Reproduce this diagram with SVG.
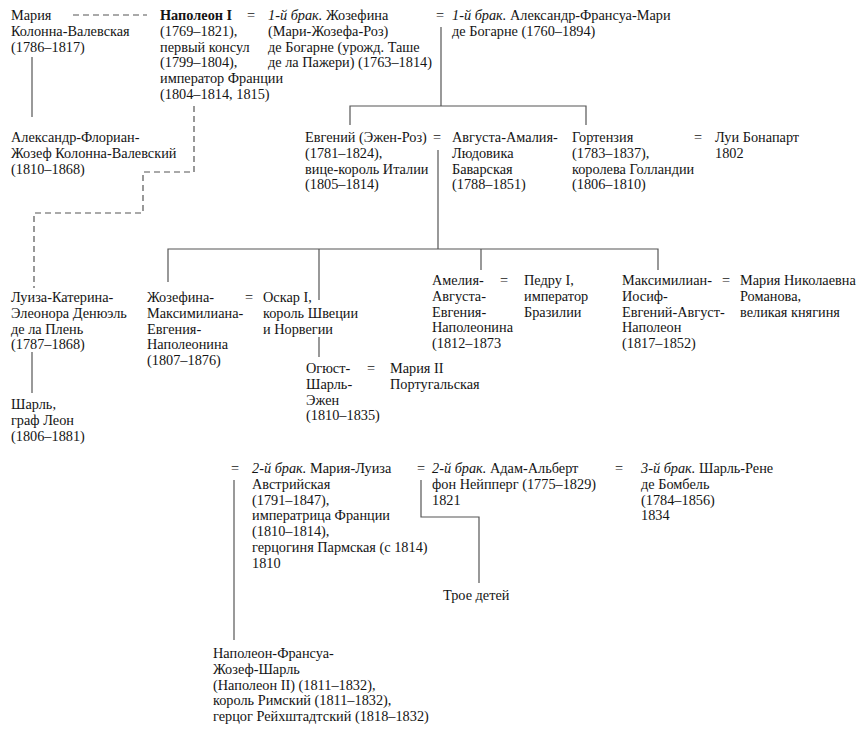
<svg xmlns="http://www.w3.org/2000/svg" width="867" height="733" viewBox="0 0 867 733">
<style>
text{font-family:"Liberation Serif","Times New Roman",serif;font-size:14.3px;fill:#141414}
.b{font-weight:bold}
.i{font-style:italic}
.eq{text-anchor:middle}
.ln{fill:none;stroke:#555;stroke-width:1.2}
.ds{fill:none;stroke:#555;stroke-width:1.2;stroke-dasharray:6 4}
</style>
<rect width="867" height="733" fill="#fff"/>
<g id="connectors">
<path class="ds" d="M73 15H147"/>
<path class="ds" d="M194 106V172H143V213H34V288"/>
<path class="ln" d="M32 57V117"/>
<path class="ln" d="M441 27V106M350 125V106H586V125"/>
<path class="ln" d="M438 150V249M168 282V249H658V270M319 249V300M319 337V357M481 249V270"/>
<path class="ln" d="M32 352V393"/>
<path class="ln" d="M234 480V640"/>
<path class="ln" d="M421 480V517H479V583"/>
</g>
<g id="maria-walewska"><text x="11" y="20">Мария<tspan x="11" dy="15.8">Колонна-Валевская</tspan><tspan x="11" dy="15.8">(1786–1817)</tspan></text></g>
<g id="napoleon"><text x="160" y="20"><tspan class="b">Наполеон I</tspan><tspan x="160" dy="15.8">(1769–1821),</tspan><tspan x="160" dy="15.8">первый консул</tspan><tspan x="160" dy="15.8">(1799–1804),</tspan><tspan x="160" dy="15.8">император Франции</tspan><tspan x="160" dy="15.8">(1804–1814, 1815)</tspan></text></g>
<g id="eq1"><text class="eq" x="251" y="20">=</text></g>
<g id="josephine"><text x="268" y="20"><tspan class="i">1-й брак.</tspan> Жозефина<tspan x="268" dy="15.8">(Мари-Жозефа-Роз)</tspan><tspan x="268" dy="15.8">де Богарне (урожд. Таше</tspan><tspan x="268" dy="15.8">де ла Пажери) (1763–1814)</tspan></text></g>
<g id="eq2"><text class="eq" x="440" y="20">=</text></g>
<g id="alexandre-beauharnais"><text x="452" y="20"><tspan class="i">1-й брак.</tspan> Александр-Франсуа-Мари<tspan x="452" dy="15.8">де Богарне (1760–1894)</tspan></text></g>
<g id="alexandre-walewski"><text x="11" y="142">Александр-Флориан-<tspan x="11" dy="15.8">Жозеф Колонна-Валевский</tspan><tspan x="11" dy="15.8">(1810–1868)</tspan></text></g>
<g id="eugene"><text x="305" y="142">Евгений (Эжен-Роз)<tspan x="305" dy="15.8">(1781–1824),</tspan><tspan x="305" dy="15.8">вице-король Италии</tspan><tspan x="305" dy="15.8">(1805–1814)</tspan></text></g>
<g id="eq3"><text class="eq" x="437" y="142">=</text></g>
<g id="augusta"><text x="452" y="142">Августа-Амалия-<tspan x="452" dy="15.8">Людовика</tspan><tspan x="452" dy="15.8">Баварская</tspan><tspan x="452" dy="15.8">(1788–1851)</tspan></text></g>
<g id="hortense"><text x="572" y="142">Гортензия<tspan x="572" dy="15.8">(1783–1837),</tspan><tspan x="572" dy="15.8">королева Голландии</tspan><tspan x="572" dy="15.8">(1806–1810)</tspan></text></g>
<g id="eq4"><text class="eq" x="698" y="142">=</text></g>
<g id="louis"><text x="715" y="142">Луи Бонапарт<tspan x="715" dy="15.8">1802</tspan></text></g>
<g id="louise"><text x="11" y="302">Луиза-Катерина-<tspan x="11" dy="15.8">Элеонора Денюэль</tspan><tspan x="11" dy="15.8">де ла Плень</tspan><tspan x="11" dy="15.8">(1787–1868)</tspan></text></g>
<g id="charles-leon"><text x="11" y="409">Шарль,<tspan x="11" dy="15.8">граф Леон</tspan><tspan x="11" dy="15.8">(1806–1881)</tspan></text></g>
<g id="josephine-max"><text x="147" y="302">Жозефина-<tspan x="147" dy="15.8">Максимилиана-</tspan><tspan x="147" dy="15.8">Евгения-</tspan><tspan x="147" dy="15.8">Наполеонина</tspan><tspan x="147" dy="15.8">(1807–1876)</tspan></text></g>
<g id="eq5"><text class="eq" x="249" y="302">=</text></g>
<g id="oscar"><text x="263" y="302">Оскар I,<tspan x="263" dy="15.8">король Швеции</tspan><tspan x="263" dy="15.8">и Норвегии</tspan></text></g>
<g id="auguste"><text x="306" y="373">Огюст-<tspan x="306" dy="15.8">Шарль-</tspan><tspan x="306" dy="15.8">Эжен</tspan><tspan x="306" dy="15.8">(1810–1835)</tspan></text></g>
<g id="eq6"><text class="eq" x="371" y="373">=</text></g>
<g id="maria2"><text x="390" y="373">Мария II<tspan x="390" dy="15.8">Португальская</tspan></text></g>
<g id="amelie"><text x="432" y="285">Амелия-<tspan x="432" dy="15.8">Августа-</tspan><tspan x="432" dy="15.8">Евгения-</tspan><tspan x="432" dy="15.8">Наполеонина</tspan><tspan x="432" dy="15.8">(1812–1873</tspan></text></g>
<g id="eq7"><text class="eq" x="504" y="285">=</text></g>
<g id="pedro"><text x="524" y="285">Педру I,<tspan x="524" dy="15.8">император</tspan><tspan x="524" dy="15.8">Бразилии</tspan></text></g>
<g id="maximilian"><text x="622" y="285">Максимилиан-<tspan x="622" dy="15.8">Иосиф-</tspan><tspan x="622" dy="15.8">Евгений-Август-</tspan><tspan x="622" dy="15.8">Наполеон</tspan><tspan x="622" dy="15.8">(1817–1852)</tspan></text></g>
<g id="eq8"><text class="eq" x="726" y="285">=</text></g>
<g id="maria-nik"><text x="740" y="285">Мария Николаевна<tspan x="740" dy="15.8">Романова,</tspan><tspan x="740" dy="15.8">великая княгиня</tspan></text></g>
<g id="eq9"><text class="eq" x="235" y="473">=</text></g>
<g id="marie-louise"><text x="252" y="473"><tspan class="i">2-й брак.</tspan> Мария-Луиза<tspan x="252" dy="15.8">Австрийская</tspan><tspan x="252" dy="15.8">(1791–1847),</tspan><tspan x="252" dy="15.8">императрица Франции</tspan><tspan x="252" dy="15.8">(1810–1814),</tspan><tspan x="252" dy="15.8">герцогиня Пармская (с 1814)</tspan><tspan x="252" dy="15.8">1810</tspan></text></g>
<g id="eq10"><text class="eq" x="421" y="473">=</text></g>
<g id="neipperg"><text x="432" y="473"><tspan class="i">2-й брак.</tspan> Адам-Альберт<tspan x="432" dy="15.8">фон Нейпперг (1775–1829)</tspan><tspan x="432" dy="15.8">1821</tspan></text></g>
<g id="eq11"><text class="eq" x="619" y="473">=</text></g>
<g id="bombelles"><text x="641" y="473"><tspan class="i">3-й брак.</tspan> Шарль-Рене<tspan x="641" dy="15.8">де Бомбель</tspan><tspan x="641" dy="15.8">(1784–1856)</tspan><tspan x="641" dy="15.8">1834</tspan></text></g>
<g id="three-children"><text x="443" y="600">Трое детей</text></g>
<g id="napoleon2"><text x="213" y="658">Наполеон-Франсуа-<tspan x="213" dy="15.8">Жозеф-Шарль</tspan><tspan x="213" dy="15.8">(Наполеон II) (1811–1832),</tspan><tspan x="213" dy="15.8">король Римский (1811–1832),</tspan><tspan x="213" dy="15.8">герцог Рейхштадтский (1818–1832)</tspan></text></g>
</svg>
